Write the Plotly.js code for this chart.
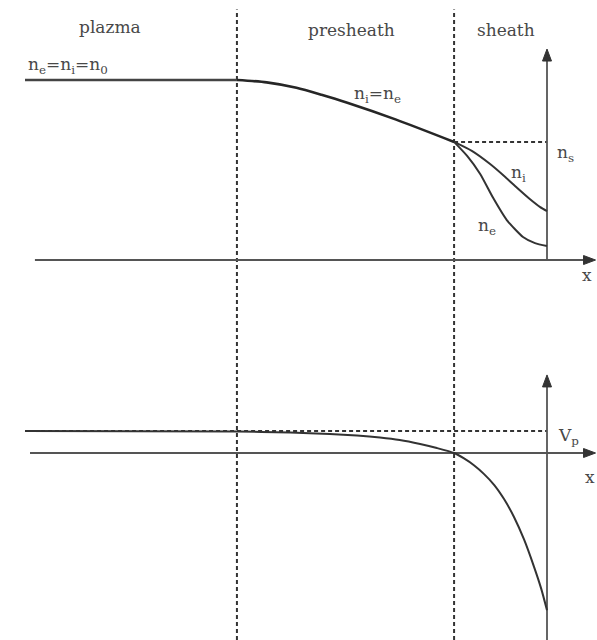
<!DOCTYPE html>
<html>
<head>
<meta charset="utf-8">
<script src="https://cdn.plot.ly/plotly-3.0.1.min.js"></script>
<style>html,body{margin:0;padding:0;background:#fff;}#chart{width:597px;height:640px;}</style>
</head>
<body>
<div id="chart"></div>
<script>
// ---- data (x: position, wall at x = 1) ----
const regionNames = ["plazma", "presheath", "sheath"];
const regionBounds = [0.406, 0.822];          // presheath start, sheath edge
const wallX = 1.0;

// densities (normalized to n0 = 1)
const xPlasma = [0, 0.406];
const nPlasma = [1, 1];
const xPresheath = [0.406, 0.463, 0.520, 0.568, 0.616, 0.711, 0.822];
const nPresheath = [1.0, 0.987, 0.957, 0.918, 0.875, 0.78, 0.656];
const xIon = [0.822, 0.856, 0.891, 0.920, 0.943, 0.967, 0.987, 1.0];
const nIon = [0.656, 0.606, 0.533, 0.461, 0.400, 0.339, 0.294, 0.272];
const xEl = [0.822, 0.847, 0.872, 0.897, 0.923, 0.954, 0.977, 1.0];
const nEl = [0.656, 0.578, 0.478, 0.344, 0.222, 0.128, 0.094, 0.078];
const nSheathEdge = 0.656;

// potential (normalized to Vp = 1)
const xPot = [0, 0.406, 0.508, 0.584, 0.636, 0.680, 0.718, 0.757, 0.789, 0.822,
              0.841, 0.860, 0.879, 0.899, 0.918, 0.937, 0.956, 0.975, 0.989, 1.0];
const vPot = [1.0, 0.977, 0.932, 0.864, 0.795, 0.705, 0.591, 0.409, 0.227, 0,
              -0.248, -0.555, -0.948, -1.455, -2.102, -2.918, -3.93, -5.164, -6.177, -7.145];
const vPlasma = 1.0;

const ink = "#262626";
const axisInk = "#555";
const serif = "DejaVu Serif, Liberation Serif, serif";

const traces = [
  {x: xPlasma, y: nPlasma, mode: "lines", line: {color: "#444", width: 2.4}},
  {x: xPresheath, y: nPresheath, mode: "lines", line: {color: ink, width: 2.6, shape: "spline", smoothing: 0.7}},
  {x: xIon, y: nIon, mode: "lines", line: {color: "#333", width: 2, shape: "spline", smoothing: 0.6}},
  {x: xEl, y: nEl, mode: "lines", line: {color: "#333", width: 2, shape: "spline", smoothing: 0.6}},
  {x: xPot, y: vPot, xaxis: "x", yaxis: "y2", mode: "lines", line: {color: "#333", width: 2, shape: "spline", smoothing: 0.6}}
];

const dash = {color: "#333", width: 2, dash: "4px,3px"};
const axisLine = {color: axisInk, width: 1.8};
function seg(yref, x0, y0, x1, y1, line) {
  return {type: "line", xref: "x", yref: yref, x0: x0, y0: y0, x1: x1, y1: y1, line: line, layer: "below"};
}
function head(yref, x, y, dir) {
  const p = dir === "right" ? "M0,0 L-12,-4.5 L-12,4.5 Z" : "M0,0 L-4.5,-12 L4.5,-12 Z";
  return {type: "path", xref: "x", yref: yref, xsizemode: "pixel", ysizemode: "pixel",
    xanchor: x, yanchor: y, path: p, fillcolor: "#333", line: {color: "#333", width: 1}};
}

const shapes = [
  {type: "line", xref: "x", yref: "paper", x0: regionBounds[0], x1: regionBounds[0], y0: 0, y1: 0.985, line: dash, layer: "below"},
  {type: "line", xref: "x", yref: "paper", x0: regionBounds[1], x1: regionBounds[1], y0: 0, y1: 0.985, line: dash, layer: "below"},
  seg("y", regionBounds[1], nSheathEdge, wallX, nSheathEdge, dash),
  seg("y2", 0.004, vPlasma, wallX, vPlasma, dash),
  // axes
  seg("y", 0.019, 0, 1.085, 0, axisLine),
  seg("y", wallX, 0, wallX, 1.15, axisLine),
  seg("y2", 0.0096, 0, 1.085, 0, axisLine),
  seg("y2", wallX, -8.6, wallX, 3.3, axisLine),
  head("y", 1.093, 0, "right"),
  head("y", wallX, 1.172, "up"),
  head("y2", 1.093, 0, "right"),
  head("y2", wallX, 3.55, "up")
];

function label(yref, x, y, text, size) {
  return {xref: "x", yref: yref, x: x, y: y, text: text, showarrow: false,
    font: {family: serif, size: size || 17, color: "#484848"}};
}

const annotations = [
  label("y", 0.163, 1.294, regionNames[0]),
  label("y", 0.626, 1.278, regionNames[1]),
  label("y", 0.921, 1.278, regionNames[2]),
  label("y", 0.082, 1.083, "n<sub>e</sub>=n<sub>i</sub>=n<sub>0</sub>"),
  label("y", 0.676, 0.917, "n<sub>i</sub>=n<sub>e</sub>"),
  label("y", 1.036, 0.594, "n<sub>s</sub>"),
  label("y", 0.946, 0.483, "n<sub>i</sub>"),
  label("y", 0.885, 0.189, "n<sub>e</sub>"),
  label("y", 1.077, -0.083, "x"),
  label("y2", 1.042, 0.773, "V<sub>p</sub>"),
  label("y2", 1.082, -1.09, "x")
];

const hidden = {visible: false, showgrid: false, zeroline: false, fixedrange: true};
const layout = {
  width: 597, height: 640,
  margin: {l: 0, r: 0, t: 0, b: 0},
  paper_bgcolor: "#fff", plot_bgcolor: "#fff",
  showlegend: false,
  xaxis: Object.assign({range: [-0.04789, 1.09579], domain: [0, 1], anchor: "y2"}, hidden),
  yaxis: Object.assign({range: [-0.4722, 1.4444], domain: [0.4609, 1]}, hidden),
  yaxis2: Object.assign({range: [-8.5, 4.909], domain: [0, 0.4609]}, hidden),
  shapes: shapes,
  annotations: annotations
};

Plotly.newPlot("chart", traces, layout, {staticPlot: true, displayModeBar: false});
</script>
</body>
</html>
